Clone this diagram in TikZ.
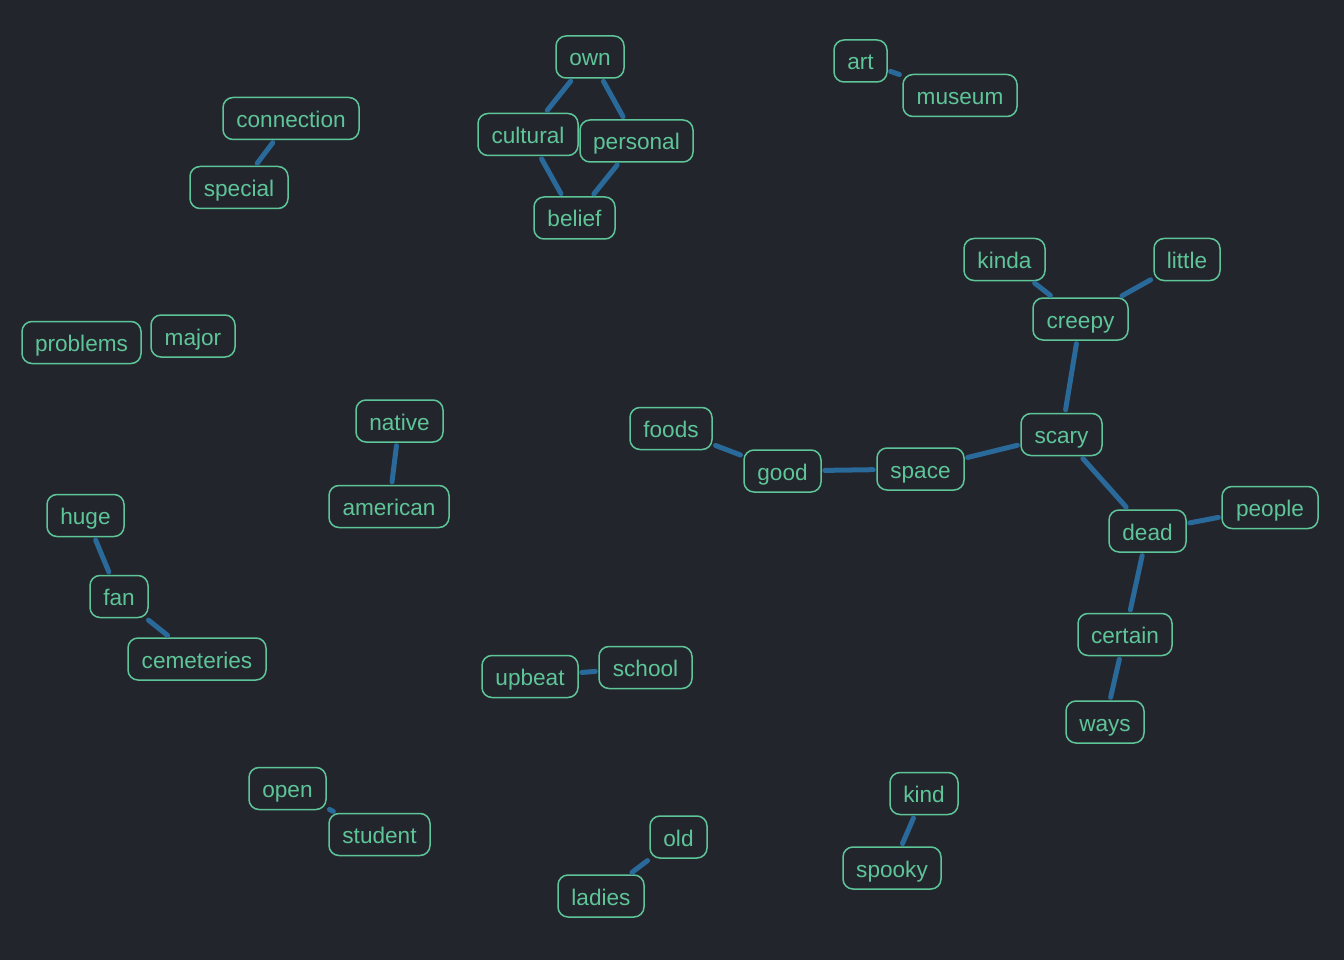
\documentclass[tikz,border=0pt]{standalone}
\usepackage{fontspec}
\setmainfont{Liberation Sans}
\definecolor{bgc}{HTML}{23252D}
\definecolor{nodec}{HTML}{5EC598}
\definecolor{edgec}{HTML}{2A6A9A}
\begin{document}
\begin{tikzpicture}[x=1pt,y=-1pt,
  word/.style={draw=nodec, line width=1.5pt, rounded corners=10pt, fill=bgc, text=nodec,
    font=\fontsize{22.6}{25}\selectfont, minimum height=42pt, inner xsep=0pt, inner ysep=0pt,
    text height=22.5pt, text depth=4.5pt, anchor=center},
  link/.style={draw=edgec, line width=5pt, line cap=round, shorten <=3pt, shorten >=3pt}]
\fill[bgc] (0,0) rectangle (1344,960);
\useasboundingbox (0,0) rectangle (1344,960);
\node[word, minimum width=68pt] (own) at (590,57) {own};
\node[word, minimum width=100pt] (cultural) at (528,134.5) {cultural};
\node[word, minimum width=113pt] (personal) at (636.5,141) {personal};
\node[word, minimum width=81pt] (belief) at (574.5,218) {belief};
\node[word, minimum width=136pt] (connection) at (291,118.5) {connection};
\node[word, minimum width=98pt] (special) at (239,187.5) {special};
\node[word, minimum width=53pt] (art) at (860.5,61) {art};
\node[word, minimum width=114pt] (museum) at (960,95.5) {museum};
\node[word, minimum width=119pt] (problems) at (81.5,342.5) {problems};
\node[word, minimum width=84pt] (major) at (193,336) {major};
\node[word, minimum width=87pt] (native) at (399.5,421) {native};
\node[word, minimum width=120pt] (american) at (389,506.5) {american};
\node[word, minimum width=77pt] (huge) at (85.5,515.5) {huge};
\node[word, minimum width=58pt] (fan) at (119,596.5) {fan};
\node[word, minimum width=138pt] (cemeteries) at (197,659) {cemeteries};
\node[word, minimum width=81pt] (kinda) at (1004.5,259.5) {kinda};
\node[word, minimum width=66pt] (little) at (1187,259.5) {little};
\node[word, minimum width=95pt] (creepy) at (1080.5,319) {creepy};
\node[word, minimum width=81pt] (scary) at (1061.5,434.5) {scary};
\node[word, minimum width=82pt] (foods) at (671,428.5) {foods};
\node[word, minimum width=77pt] (good) at (782.5,471) {good};
\node[word, minimum width=87pt] (space) at (920.5,469) {space};
\node[word, minimum width=77pt] (dead) at (1147.5,531) {dead};
\node[word, minimum width=96pt] (people) at (1270,507.5) {people};
\node[word, minimum width=94pt] (certain) at (1125,634.5) {certain};
\node[word, minimum width=78pt] (ways) at (1105,722) {ways};
\node[word, minimum width=96pt] (upbeat) at (530,676.5) {upbeat};
\node[word, minimum width=93pt] (school) at (645.5,667.5) {school};
\node[word, minimum width=77pt] (open) at (287.5,788.5) {open};
\node[word, minimum width=101pt] (student) at (379.5,834.5) {student};
\node[word, minimum width=57pt] (old) at (678.5,837) {old};
\node[word, minimum width=86pt] (ladies) at (601,896) {ladies};
\node[word, minimum width=68pt] (kind) at (924,793.5) {kind};
\node[word, minimum width=98pt] (spooky) at (892,868) {spooky};
\foreach \a/\b in {own/cultural,own/personal,cultural/belief,personal/belief,connection/special,
  art/museum,native/american,huge/fan,fan/cemeteries,kinda/creepy,little/creepy,creepy/scary,
  foods/good,good/space,space/scary,scary/dead,dead/people,dead/certain,certain/ways,
  upbeat/school,open/student,old/ladies,kind/spooky}
  \draw[link] (\a) -- (\b);
\end{tikzpicture}
\end{document}
